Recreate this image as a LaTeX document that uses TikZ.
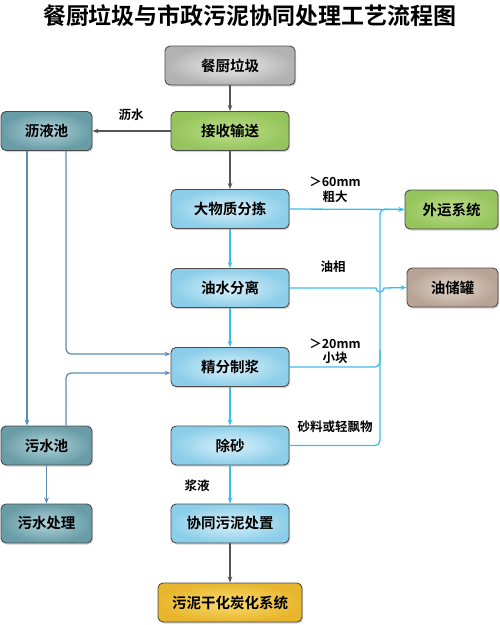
\documentclass[tikz,border=0pt]{standalone}
\usepackage{fontspec}
\setmainfont{Noto Sans CJK SC}[BoldFont={Noto Sans CJK SC Bold}]
\usetikzlibrary{arrows.meta,shadows,calc}
\definecolor{lineblue}{HTML}{3DBDEB}
\definecolor{steel}{HTML}{5B8DB8}
\definecolor{dgray}{HTML}{555555}
\begin{document}
\begin{tikzpicture}[x=1pt,y=-1pt,
  box/.style={draw=black!70, line width=0.9pt, rounded corners=5pt,
    minimum height=39pt, minimum width=118pt, inner sep=0pt,
    font=\fontsize{14.5}{16}\selectfont\bfseries,
    drop shadow={shadow xshift=1.2pt, shadow yshift=-1.5pt, opacity=0.35}},
  graybox/.style={box, inner color=gray!15, outer color=gray!60},
  greenbox/.style={box, inner color={rgb,255:red,190;green,224;blue,140}, outer color={rgb,255:red,150;green,196;blue,92}},
  tealbox/.style={box, inner color={rgb,255:red,178;green,212;blue,219}, outer color={rgb,255:red,104;green,156;blue,166}},
  bluebox/.style={box, inner color={rgb,255:red,218;green,241;blue,250}, outer color={rgb,255:red,140;green,206;blue,233}},
  brownbox/.style={box, inner color={rgb,255:red,226;green,214;blue,205}, outer color={rgb,255:red,184;green,163;blue,148}},
  yellowbox/.style={box, inner color={rgb,255:red,250;green,220;blue,115}, outer color={rgb,255:red,232;green,182;blue,44}},
  tipstyle/.style={-{Stealth[length=6pt,width=4.5pt]}},
  garrow/.style={draw=dgray, line width=1.3pt, tipstyle},
  barrow/.style={draw=lineblue, line width=1.3pt, tipstyle},
  bline/.style={draw=lineblue, line width=1.3pt},
  sarrow/.style={draw=steel, line width=1.3pt, tipstyle},
  lbl/.style={font=\fontsize{12.5}{14.5}\selectfont\bfseries, align=center, inner sep=0pt}
]
\useasboundingbox (0,0) rectangle (500,625);
\node[font=\fontsize{23}{26}\selectfont\bfseries] (title) at (250,16) {餐厨垃圾与市政污泥协同处理工艺流程图};

\node[graybox, minimum width=130pt] (waste) at (230,65.5) {餐厨垃圾};
\node[greenbox] (recv) at (230,131) {接收输送};
\node[tealbox, minimum width=91pt] (leach) at (46.5,131) {沥液池};
\node[bluebox] (sort) at (230,209) {大物质分拣};
\node[greenbox, minimum width=93pt] (ext) at (451.5,209.5) {外运系统};
\node[bluebox] (oilsep) at (230,288) {油水分离};
\node[brownbox, minimum width=91pt] (oiltank) at (452.5,287.5) {油储罐};
\node[bluebox] (pulp) at (230,367) {精分制浆};
\node[tealbox, minimum width=91pt] (sewpool) at (46.5,445.5) {污水池};
\node[bluebox] (desand) at (230,445.5) {除砂};
\node[bluebox] (cosl) at (230,523.5) {协同污泥处置};
\node[tealbox, minimum width=91pt] (sewtreat) at (46.5,523.5) {污水处理};
\node[yellowbox, minimum width=144pt] (dry) at (230,602.5) {污泥干化炭化系统};

% main flow
\draw[garrow] (waste) -- (recv);
\draw[garrow] (recv) -- (leach);
\node[lbl] (l1) at (131,115) {沥水};
\draw[garrow] (recv) -- (sort);
\draw[barrow] (sort) -- (oilsep);
\draw[barrow] (oilsep) -- (pulp);
\draw[barrow] (pulp) -- (desand);
\draw[barrow] (desand) -- (cosl);
\node[lbl] (l2) at (197,486) {浆液};
\draw[garrow] (cosl) -- (dry);

% right side
\coordinate (bustop) at (380,209);
\coordinate (busbot) at (380,445.5);
\coordinate (busmid) at (380,367);
\draw[barrow] (sort.east) -- (ext.west);
\draw[barrow, rounded corners=5pt] (desand.east) -- (busbot) -- (bustop) -- (ext.west);
\draw[bline, rounded corners=5pt] (pulp.east) -- (busmid) -- (380,350);
\draw[barrow] (oilsep.east) -- (376,288) arc[start angle=180, end angle=0, radius=4] -- (oiltank.west);
\node[lbl] (l3) at (335,189.5) {＞60mm\\粗大};
\node[lbl] (l4) at (333,267) {油相};
\node[lbl] (l5) at (335,351.5) {＞20mm\\小块};
\node[lbl] (l6) at (335,427) {砂料或轻飘物};

% left side
\draw[sarrow] ([xshift=-19.5pt]leach.south) -- ([xshift=-19.5pt]sewpool.north);
\draw[sarrow, rounded corners=5pt] ([xshift=19.5pt]leach.south) |- ([yshift=13pt]pulp.west);
\draw[sarrow, rounded corners=5pt] ([xshift=19.5pt]sewpool.north) |- ([yshift=-6pt]pulp.west);
\draw[sarrow] (sewpool) -- (sewtreat);
\end{tikzpicture}
\end{document}
